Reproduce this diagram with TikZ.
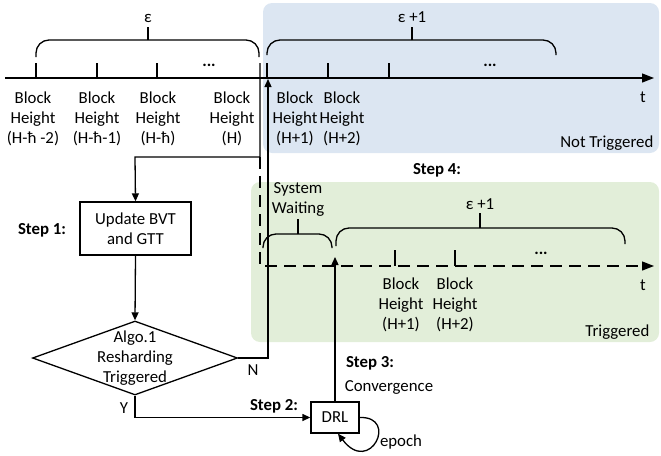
\documentclass[tikz,border=0pt]{standalone}
\usepackage{fontspec}
\setmainfont{Carlito}
\usetikzlibrary{arrows.meta,shapes.geometric}
\definecolor{bluebg}{RGB}{220,230,242}
\definecolor{greenbg}{RGB}{226,238,217}
\begin{document}
\begin{tikzpicture}[x=1pt,y=-1pt,line width=1.3pt,
  every node/.style={font=\fontsize{16.8}{20}\selectfont,inner sep=0pt},
  lbl/.style={align=center},
  stepl/.style={font=\fontsize{16.8}{20}\selectfont\bfseries},
  boxn/.style={draw,align=center},
  arr/.style={-{Triangle[length=8pt,width=7pt]}},
  axarr/.style={-{Triangle[length=12pt,width=9pt]}},
  brk/.style={rounded corners=13pt},
  dsh/.style={dash pattern=on 12pt off 7pt}]
\useasboundingbox (0,0) rectangle (661,455);
% backgrounds
\fill[bluebg,rounded corners=9pt] (263,3) rectangle (659,153);
\fill[greenbg,rounded corners=9pt] (251,182) rectangle (659,342);
% top axis
\coordinate (ax0) at (5,78);
\coordinate (ax1) at (654,78);
\draw[axarr] (ax0) -- (ax1);
\foreach \x in {36,97,157,267,328,389} \draw (\x,63) -- (\x,78);
\node (dotsA) at (209,65) {\bfseries ...};
\node (dotsB) at (490,65) {\bfseries ...};
\node (tA) at (643,97) {t};
% epsilon bracket
\draw[brk] (36,57) -- (36,40) -- (259,40) -- (259,57);
\draw (148,40) -- (148,27);
\node (eps) at (148,18) {ε};
% epsilon+1 bracket top
\draw[brk] (267,55) -- (267,40) -- (556,40) -- (556,55);
\draw (412,40) -- (412,27);
\node (epsB) at (412,17) {ε +1};
% labels top
\node[lbl] (l1) at (33,119) {Block\\Height\\(H-ħ -2)};
\node[lbl] (l2) at (97,119) {Block\\Height\\(H-ħ-1)};
\node[lbl] (l3) at (158,119) {Block\\Height\\(H-ħ)};
\node[lbl] (l4) at (232,119) {Block\\Height\\(H)};
\node[lbl] (l5) at (295,119) {Block\\Height\\(H+1)};
\node[lbl] (l6) at (342,119) {Block\\Height\\(H+2)};
\node[anchor=east] (nt) at (654,143) {Not Triggered};
% step 4
\node[stepl] (s4) at (437,170) {Step 4:};
% bottom (triggered) timeline
\coordinate (hTop) at (260,63);
\coordinate (hJ) at (260,157);
\coordinate (hL) at (135,157);
\coordinate (bx0) at (260,266);
\coordinate (bx1) at (654,266);
\draw[dsh,axarr] (hJ) -- (bx0) -- (bx1);
\foreach \x in {395,455} \draw (\x,250) -- (\x,266);
\node (dotsC) at (541,253) {\bfseries ...};
\node (tB) at (643,285) {t};
% system waiting bracket
\draw[brk] (263,248) -- (263,234) -- (332,234) -- (332,248);
\draw (298,234) -- (298,219);
\node[lbl] (sw) at (298,199) {System\\Waiting};
% epsilon+1 bracket bottom
\draw[brk] (336,246) -- (336,228) -- (625,228) -- (625,244);
\draw (480,228) -- (480,213);
\node (epsC) at (480,204) {ε +1};
\node[lbl] (m1) at (401,305) {Block\\Height\\(H+1)};
\node[lbl] (m2) at (455,305) {Block\\Height\\(H+2)};
\node[anchor=east] (tr) at (650,332) {Triggered};
% flowchart
\node[boxn,minimum width=111pt,minimum height=53pt] (upd) at (135.5,228.5) {Update BVT\\and GTT};
\node[stepl] (s1) at (42,230) {Step 1:};
\node[draw,diamond,minimum width=205pt,minimum height=74pt] (dec) at (135,358) {};
\node[lbl] (dect) at (135,358) {Algo.1\\Resharding\\Triggered};
\node[boxn,minimum width=48pt,minimum height=31pt] (drl) at (335,417.5) {DRL};
\draw[arr] (hTop) -- (hJ) -- (hL) -- (upd.north);
\draw[arr] (upd.south) -- (dec.north);
\coordinate (nc) at (268,358);
\coordinate (ntop) at (268,79);
\draw[arr] (dec.east) -- (nc) -- (ntop);
\node (nl) at (253,370) {N};
\coordinate (yc) at (135,417.5);
\draw[arr] (dec.south) -- (yc) -- (drl.west);
\node (yl) at (124,408) {Y};
\node[stepl] (s2) at (274,406) {Step 2:};
\coordinate (cv) at (335,257);
\draw[arr] (drl.north) -- (cv);
\node[stepl] (s3) at (370,363) {Step 3:};
\node (conv) at (389,387) {Convergence};
\draw[arr] (drl.east) .. controls (399,416) and (370,476) .. ([xshift=3pt]drl.south);
\node (ep) at (401,442) {epoch};
\end{tikzpicture}
\end{document}
